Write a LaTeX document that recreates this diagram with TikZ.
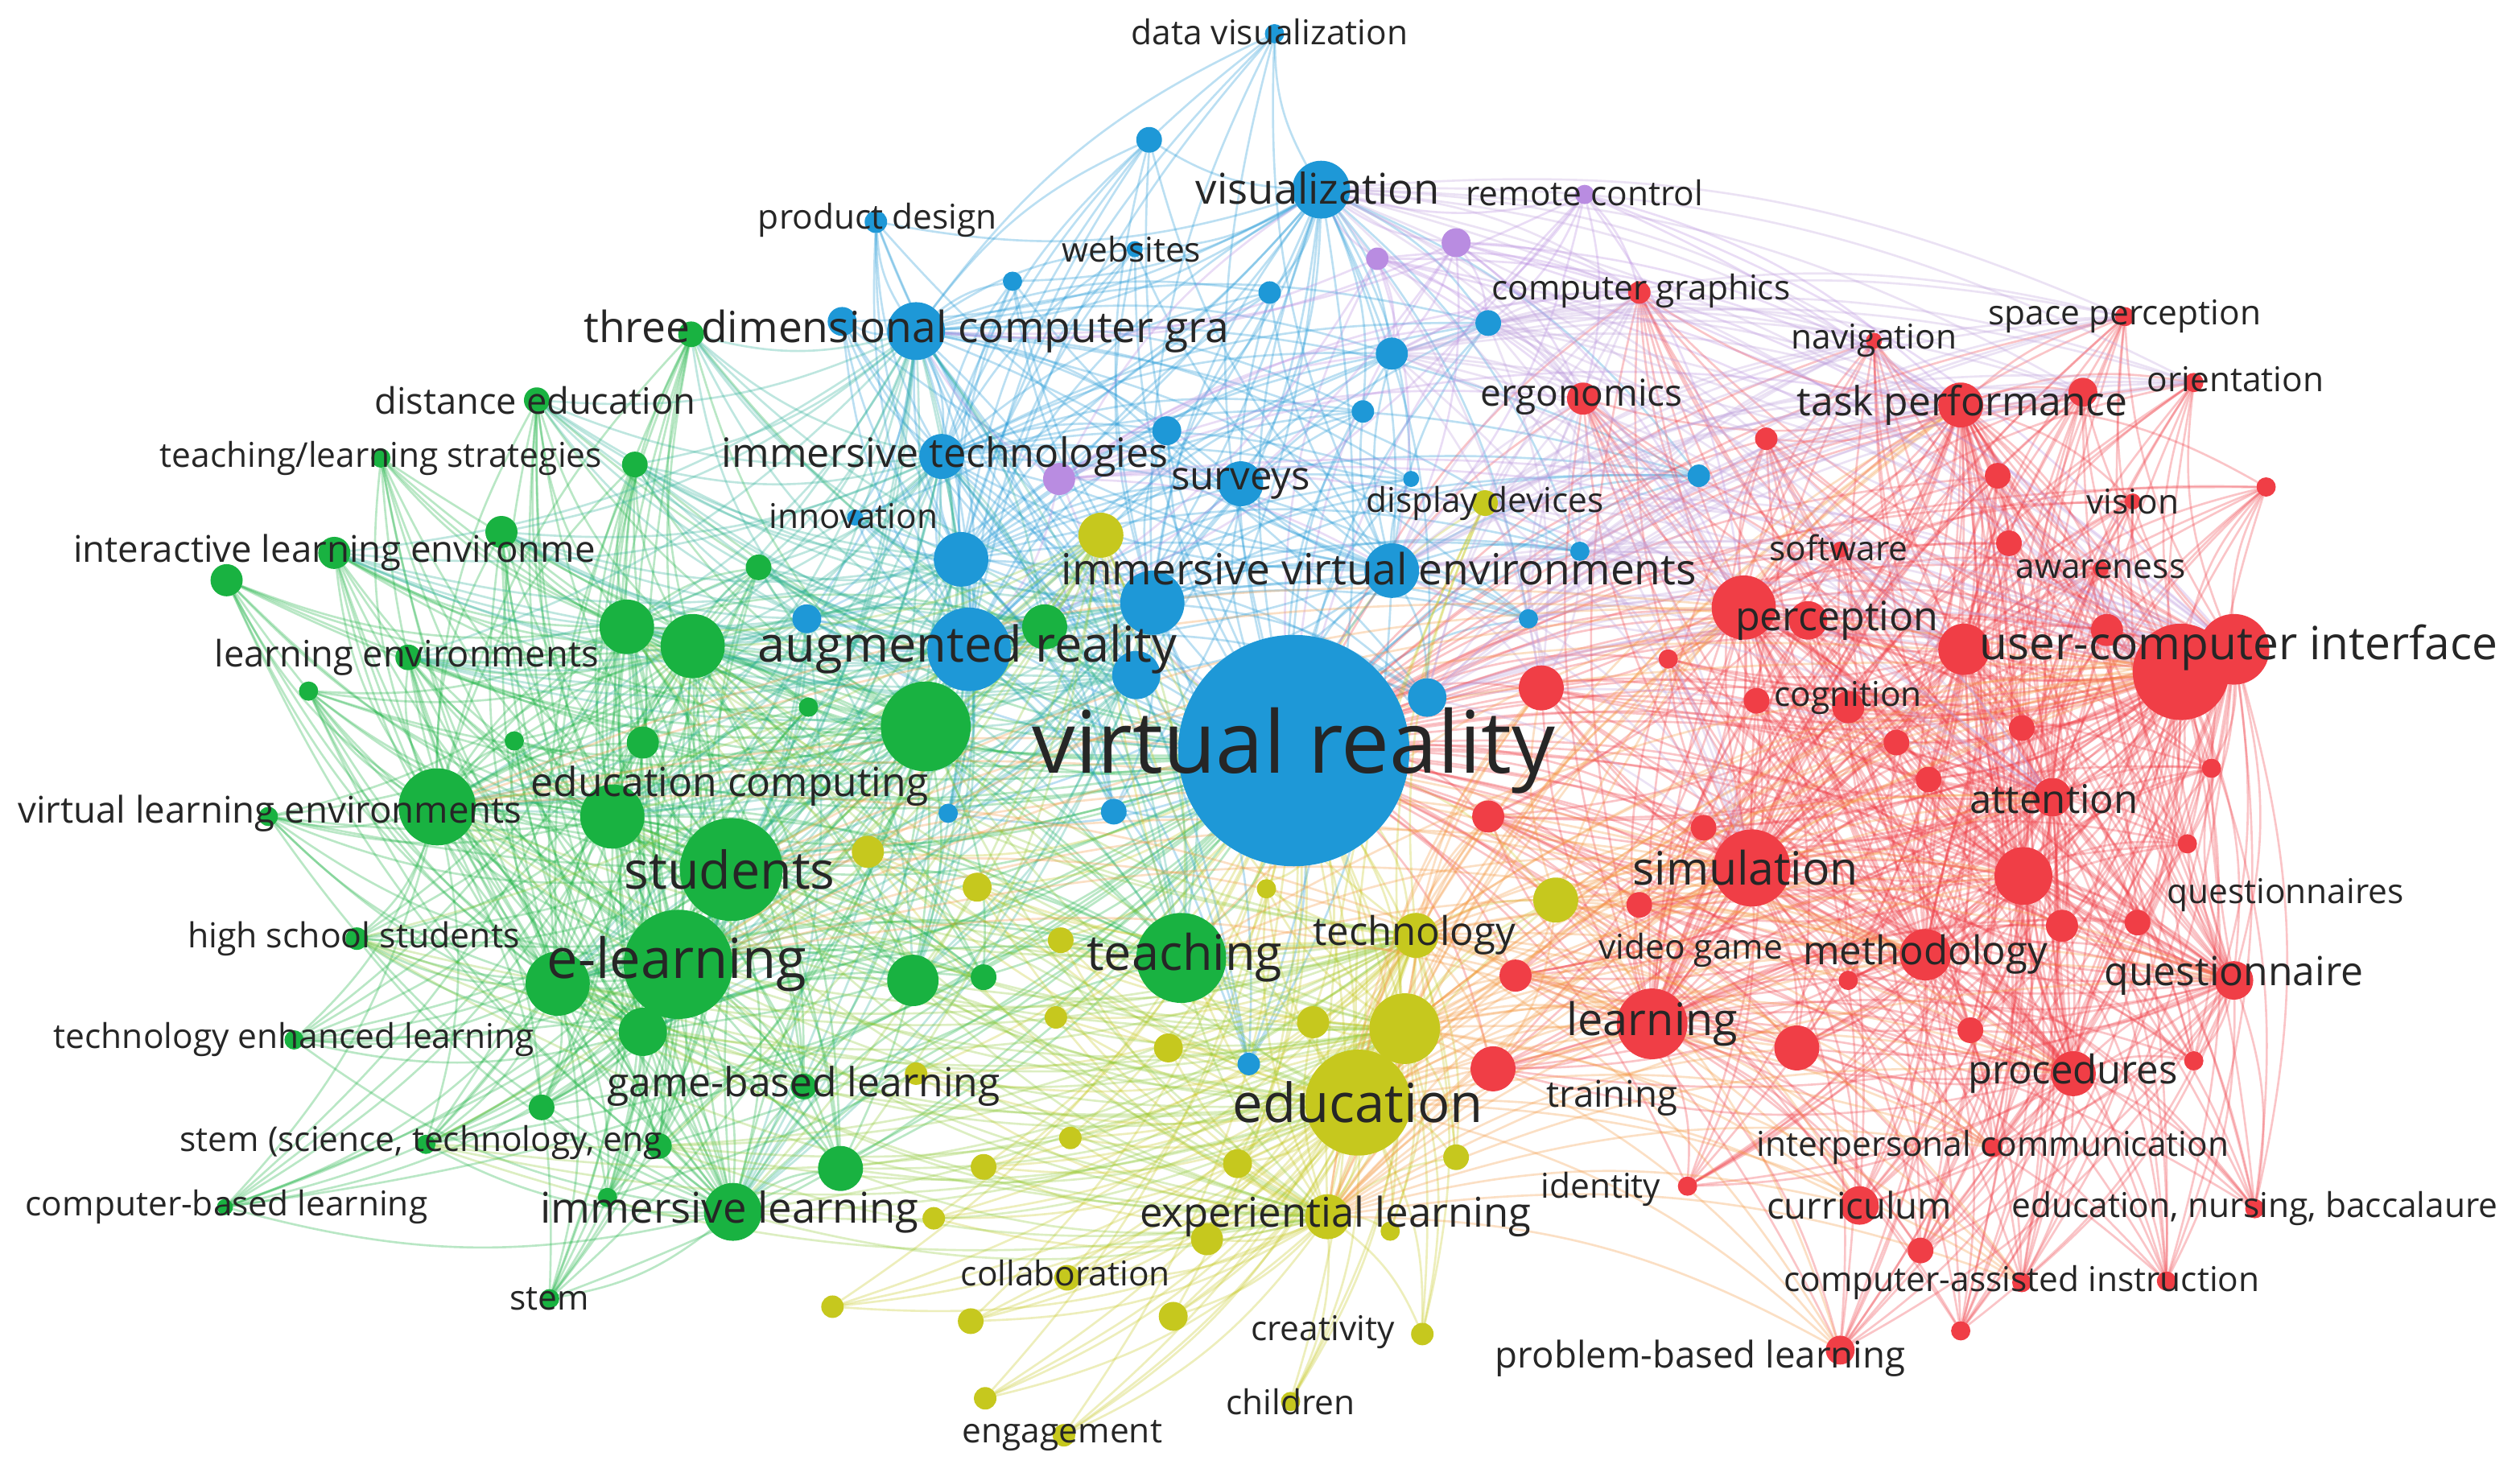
\documentclass[tikz,border=0pt]{standalone}
\usepackage{fontspec}
\setmainfont{Open Sans}
\definecolor{cB}{RGB}{30,152,215}
\definecolor{cG}{RGB}{25,178,65}
\definecolor{cY}{RGB}{198,200,30}
\definecolor{cR}{RGB}{240,62,70}
\definecolor{cP}{RGB}{185,140,225}
\definecolor{cT}{RGB}{38,38,38}
\definecolor{cTe}{RGB}{40,175,150}
\definecolor{cYG}{RGB}{140,200,50}
\definecolor{cO}{RGB}{245,150,60}
\definecolor{cL}{RGB}{190,160,220}
\pgfdeclarelayer{edges}
\pgfsetlayers{edges,main}
\tikzset{
  kw/.style={circle,inner sep=0pt,outer sep=0pt,minimum size={#1*0.04cm}},
  nB/.style={kw=#1,fill=cB},
  nG/.style={kw=#1,fill=cG},
  nY/.style={kw=#1,fill=cY},
  nR/.style={kw=#1,fill=cR},
  nP/.style={kw=#1,fill=cP},
  lbl/.style={text=cT,inner sep=0pt,font=\fontsize{#1}{#1}\selectfont},
  eg/.style={line width=0.75pt,draw opacity=0.3},
  eB/.style={eg,draw=cB},
  eG/.style={eg,draw=cG},
  eY/.style={eg,draw=cY},
  eR/.style={eg,draw=cR},
  eP/.style={eg,draw=cP},
  eTe/.style={eg,draw=cTe},
  eYG/.style={eg,draw=cYG},
  eO/.style={eg,draw=cO},
  eL/.style={eg,draw=cL},
  cv/.style={bend left=14},
}
\def\Bl{dv,vis,pd,web,tdcg,imt,inn,sur,ive,ar,b1,b2,b3,b4,b5,b6,b7,b8,b9,b10,b11,b12,b13,b14,b15,b16,b17,b18,b19,b20}
\def\Bm{dv,pd,web,inn,sur,b1,b2,b3,b4,b5,b6,b7,b8,b9,b10,b11,b12,b15,b16,b17,b18,b19,b20}
\def\Gl{de,tls,ile,g0,le,vle,ec,stu,hss,el,tel,gbl,stm2,cbl,iml,stem,tch,g1,g2,g3,g4,g5,g6,g7,g8,g9,g10,g11,g12,g13,g14,g15,g16,g17,g18,g19,g20,g21}
\def\Gm{de,tls,ile,g0,le,hss,tel,stm2,cbl,stem,tch,g1,g2,g3,g4,g8,g9,g10,g11,g13,g14,g15,g16,g17,g18,g19,g20,g21}
\def\Yl{dd,tech,edu,exl,col,cre,chi,eng,y1,y2,y3,y4,y5,y6,y7,y8,y9,y10,y11,y12,y13,y14,y15,y16,y17,y18,y19,y20,y21,y22}
\def\Ym{dd,col,cre,chi,eng,y1,y2,y4,y5,y6,y7,y8,y9,y10,y11,y12,y13,y14,y15,y16,y17,y18,y19,y20,y21,y22}
\def\Rl{cg,nav,sp,erg,tp,ori,sw,vsn,aw,per,uci,cog,att,sim,qs,vg,meth,qn,lrn,proc,trn,ipc,cur,enb,cai,pbl,idn,r1,r2,r3,r4,r5,r6,r7,r8,r9,r10,r11,r12,r13,r14,r15,r16,r17,r18,r19,r20,r21,r22,r23,r24,r25,r26,r27,r28,r29}
\def\Rm{cg,nav,sp,erg,ori,sw,vsn,aw,cog,qs,vg,ipc,cur,enb,cai,pbl,idn,trn,r1,r2,r3,r4,r5,r6,r7,r8,r11,r12,r13,r14,r15,r16,r17,r18,r19,r20,r21,r22,r23,r24,r26,r27,r28,r29}
\def\Pl{rc,p1,p2,p3}
\begin{document}
\begin{tikzpicture}[x=0.02cm,y=-0.02cm]
\useasboundingbox (0,0) rectangle (1568,921);
% ---------- blue ----------
\node[nB=72] (vr) at (805,467) {};
\node[nB=6] (dv) at (793,21) {};
\node[nB=18] (vis) at (822,118) {};
\node[nB=7] (pd) at (545,138) {};
\node[nB=5] (web) at (706,155) {};
\node[nB=18] (tdcg) at (570,206) {};
\node[nB=14] (imt) at (586,284) {};
\node[nB=5] (inn) at (532,322) {};
\node[nB=14] (sur) at (772,301) {};
\node[nB=17] (ive) at (866,355) {};
\node[nB=26] (ar) at (603,404) {};
\node[nB=8] (b1) at (715,87) {};
\node[nB=6] (b2) at (630,175) {};
\node[nB=7] (b3) at (790,182) {};
\node[nB=9] (b4) at (524,200) {};
\node[nB=9] (b5) at (726,268) {};
\node[nB=10] (b6) at (866,220) {};
\node[nB=8] (b7) at (926,201) {};
\node[nB=7] (b8) at (848,256) {};
\node[nB=5] (b9) at (878,298) {};
\node[nB=7] (b10) at (1057,296) {};
\node[nB=6] (b11) at (983,343) {};
\node[nB=6] (b12) at (951,385) {};
\node[nB=17] (b13) at (598,348) {};
\node[nB=20] (b14) at (717,375) {};
\node[nB=15] (b15) at (707,420) {};
\node[nB=12] (b16) at (888,434) {};
\node[nB=6] (b17) at (590,506) {};
\node[nB=8] (b18) at (693,505) {};
\node[nB=7] (b19) at (777,662) {};
\node[nB=9] (b20) at (502,385) {};
% ---------- purple ----------
\node[nP=6] (rc) at (986,121) {};
\node[nP=9] (p1) at (906,151) {};
\node[nP=7] (p2) at (857,161) {};
\node[nP=10] (p3) at (659,298) {};
% ---------- yellow ----------
\node[nY=8] (dd) at (924,313) {};
\node[nY=14] (tech) at (881,582) {};
\node[nY=33] (edu) at (845,686) {};
\node[nY=14] (exl) at (826,757) {};
\node[nY=8] (col) at (664,795) {};
\node[nY=7] (cre) at (885,830) {};
\node[nY=6] (chi) at (803,872) {};
\node[nY=7] (eng) at (662,893) {};
\node[nY=14] (y1) at (685,333) {};
\node[nY=14] (y2) at (968,560) {};
\node[nY=22] (y3) at (874,640) {};
\node[nY=10] (y4) at (540,530) {};
\node[nY=9] (y5) at (608,552) {};
\node[nY=8] (y6) at (660,585) {};
\node[nY=7] (y7) at (657,633) {};
\node[nY=9] (y8) at (727,652) {};
\node[nY=10] (y9) at (817,636) {};
\node[nY=9] (y10) at (770,724) {};
\node[nY=10] (y11) at (751,771) {};
\node[nY=8] (y12) at (612,726) {};
\node[nY=7] (y13) at (666,708) {};
\node[nY=7] (y14) at (581,758) {};
\node[nY=7] (y15) at (518,813) {};
\node[nY=8] (y16) at (604,822) {};
\node[nY=9] (y17) at (730,819) {};
\node[nY=7] (y18) at (613,870) {};
\node[nY=8] (y19) at (906,720) {};
\node[nY=6] (y20) at (865,766) {};
\node[nY=6] (y21) at (788,553) {};
\node[nY=7] (y22) at (570,668) {};
% ---------- red ----------
\node[nR=7] (cg) at (1020,182) {};
\node[nR=5] (nav) at (1166,212) {};
\node[nR=6] (sp) at (1322,197) {};
\node[nR=10] (erg) at (985,248) {};
\node[nR=14] (tp) at (1220,252) {};
\node[nR=6] (ori) at (1365,238) {};
\node[nR=5] (sw) at (1145,342) {};
\node[nR=5] (vsn) at (1327,312) {};
\node[nR=5] (aw) at (1307,354) {};
\node[nR=20] (per) at (1085,378) {};
\node[nR=30] (uci) at (1357,418) {};
\node[nR=8] (cog) at (1093,436) {};
\node[nR=12] (att) at (1277,496) {};
\node[nR=24] (sim) at (1090,540) {};
\node[nR=6] (qs) at (1361,525) {};
\node[nR=8] (vg) at (1020,563) {};
\node[nR=16] (meth) at (1198,594) {};
\node[nR=12] (qn) at (1390,610) {};
\node[nR=22] (lrn) at (1028,637) {};
\node[nR=14] (proc) at (1290,668) {};
\node[nR=14] (trn) at (929,665) {};
\node[nR=6] (ipc) at (1240,714) {};
\node[nR=12] (cur) at (1157,750) {};
\node[nR=6] (enb) at (1403,752) {};
\node[nR=6] (cai) at (1258,798) {};
\node[nR=9] (pbl) at (1145,840) {};
\node[nR=6] (idn) at (1050,738) {};
\node[nR=14] (r1) at (959,428) {};
\node[nR=10] (r2) at (926,508) {};
\node[nR=10] (r3) at (943,607) {};
\node[nR=7] (r4) at (1099,273) {};
\node[nR=8] (r5) at (1243,296) {};
\node[nR=9] (r6) at (1296,244) {};
\node[nR=6] (r7) at (1410,303) {};
\node[nR=8] (r8) at (1250,338) {};
\node[nR=16] (r9) at (1222,404) {};
\node[nR=18] (r10) at (1259,545) {};
\node[nR=10] (r11) at (1283,576) {};
\node[nR=14] (r12) at (1118,652) {};
\node[nR=8] (r13) at (1226,641) {};
\node[nR=6] (r14) at (1365,660) {};
\node[nR=8] (r15) at (1195,778) {};
\node[nR=6] (r16) at (1220,828) {};
\node[nR=6] (r17) at (1348,797) {};
\node[nR=6] (r18) at (1038,410) {};
\node[nR=8] (r19) at (1180,462) {};
\node[nR=8] (r20) at (1200,485) {};
\node[nR=8] (r21) at (1330,574) {};
\node[nR=6] (r22) at (1376,478) {};
\node[nR=8] (r23) at (1258,453) {};
\node[nR=10] (r24) at (1311,392) {};
\node[nR=22] (r25) at (1390,404) {};
\node[nR=8] (r26) at (1060,515) {};
\node[nR=6] (r27) at (1150,610) {};
\node[nR=10] (r28) at (1150,440) {};
\node[nR=12] (r29) at (1125,386) {};
% ---------- green ----------
\node[nG=8] (de) at (334,249) {};
\node[nG=6] (tls) at (237,285) {};
\node[nG=10] (ile) at (208,344) {};
\node[nG=10] (g0) at (141,361) {};
\node[nG=8] (le) at (254,409) {};
\node[nG=24] (vle) at (272,502) {};
\node[nG=20] (ec) at (381,508) {};
\node[nG=32] (stu) at (455,541) {};
\node[nG=7] (hss) at (222,584) {};
\node[nG=34] (el) at (422,600) {};
\node[nG=6] (tel) at (183,647) {};
\node[nG=15] (gbl) at (400,642) {};
\node[nG=6] (stm2) at (265,712) {};
\node[nG=5] (cbl) at (140,751) {};
\node[nG=18] (iml) at (456,754) {};
\node[nG=6] (stem) at (342,808) {};
\node[nG=28] (tch) at (735,596) {};
\node[nG=8] (g1) at (430,208) {};
\node[nG=8] (g2) at (395,289) {};
\node[nG=10] (g3) at (312,331) {};
\node[nG=8] (g4) at (472,353) {};
\node[nG=17] (g5) at (390,390) {};
\node[nG=20] (g6) at (431,402) {};
\node[nG=28] (g7) at (576,452) {};
\node[nG=14] (g8) at (650,390) {};
\node[nG=10] (g9) at (400,462) {};
\node[nG=6] (g10) at (320,461) {};
\node[nG=6] (g11) at (503,440) {};
\node[nG=20] (g12) at (347,612) {};
\node[nG=16] (g13) at (568,610) {};
\node[nG=8] (g14) at (612,608) {};
\node[nG=8] (g15) at (337,689) {};
\node[nG=8] (g16) at (410,713) {};
\node[nG=14] (g17) at (523,727) {};
\node[nG=6] (g18) at (378,745) {};
\node[nG=6] (g19) at (192,430) {};
\node[nG=6] (g20) at (167,508) {};
\node[nG=8] (g21) at (500,676) {};
% ---------- edges ----------
\begin{pgfonlayer}{edges}
\fill[white] (0,0) rectangle (1568,921);
\foreach \b in \Bl {\draw[eB] (vr) to[cv] (\b);}
\foreach \b in \Gl {\draw[eG] (vr) to[cv] (\b);}
\foreach \b in \Yl {\draw[eY] (vr) to[cv] (\b);}
\foreach \b in \Rl {\draw[eR] (vr) to[cv] (\b);}
\foreach \b in \Pl {\draw[eP] (vr) to[cv] (\b);}
% blue
\foreach \a in {vis,tdcg,ar,ive,imt,b14,b13}
  \foreach \b in \Bm {\draw[eB] (\a) to[cv] (\b);}
\foreach \a/\b in {vis/tdcg,vis/ar,vis/ive,vis/imt,tdcg/ar,tdcg/imt,ar/imt,ar/ive,ive/imt,b14/vis,b14/ar,b14/ive,b13/ar,b13/tdcg,b13/imt,b13/vis}
  {\draw[eB] (\a) to[cv] (\b);}
% purple
\foreach \a in \Pl
  \foreach \b in {vis,ive,ar,tdcg,b6,b7,per,uci,r25,tp,erg,cg}
  {\draw[eP] (\a) to[cv] (\b);}
% green
\foreach \a in {vle,ec,stu,el,g5,g6,g7,g12,gbl,iml}
  \foreach \b in \Gm {\draw[eG] (\a) to[cv] (\b);}
\foreach \a/\b in {vle/ec,vle/stu,vle/el,vle/g5,vle/g6,vle/g12,ec/stu,ec/el,ec/g5,ec/g6,ec/g7,stu/el,stu/g5,stu/g6,stu/g7,stu/g12,stu/gbl,stu/iml,el/g5,el/g6,el/g7,el/g12,el/gbl,el/iml,g5/g6,g6/g7,g7/g12,g12/gbl,gbl/iml,g12/iml}
  {\draw[eG] (\a) to[cv] (\b);}
% yellow
\foreach \a in {edu,y3,tech,exl}
  \foreach \b in \Ym {\draw[eY] (\a) to[cv] (\b);}
\foreach \a/\b in {edu/y3,edu/tech,edu/exl,y3/tech,y3/exl,tech/exl}
  {\draw[eY] (\a) to[cv] (\b);}
% red
\foreach \a in {uci,r25,per,sim,lrn,tp,meth,att,r10,r9,qn,proc}
  \foreach \b in \Rm {\draw[eR] (\a) to[cv] (\b);}
\foreach \a/\b in {uci/r25,uci/per,uci/sim,uci/lrn,uci/tp,uci/meth,uci/att,uci/r10,uci/r9,uci/qn,uci/proc,per/sim,per/lrn,per/tp,per/r9,sim/lrn,sim/meth,sim/r10,lrn/meth,lrn/proc,tp/r9,meth/proc,meth/qn,att/r10,r10/qn,proc/qn,r25/tp,r25/att,r25/qn}
  {\draw[eR] (\a) to[cv] (\b);}
% cross: blue-green
\foreach \a in {ar,b13,imt,tdcg,b15,b20,b14}
  \foreach \b in {vle,ec,stu,el,g5,g6,g7,g12,de,ile,le,iml,gbl,tch,g1,g2,g3,g4,g8,g13}
  {\draw[eTe] (\a) to[cv] (\b);}
% cross: yellow-green
\foreach \a in {edu,y3,tech,exl,y1}
  \foreach \b in {vle,ec,stu,el,g5,g6,g7,g12,iml,gbl,tch,g13,g17,g16,stm2,hss}
  {\draw[eYG] (\a) to[cv] (\b);}
% cross: yellow-red
\foreach \a in {edu,y3,tech,y2,exl}
  \foreach \b in {uci,r25,per,sim,lrn,tp,meth,att,r10,qn,proc,cur,trn,r1,r2,r3,r12,pbl,ipc,cai}
  {\draw[eO] (\a) to[cv] (\b);}
% cross: blue-red
\foreach \a in {vis,ive,b16,b6,b7,b12,b11,dd}
  \foreach \b in {uci,r25,per,tp,erg,cg,r1,r9,sim,att,sp,nav,ori,r6}
  {\draw[eL] (\a) to[cv] (\b);}
% cross: green-red
\foreach \a in {el,stu,vle,tch}
  \foreach \b in {lrn,sim,uci,per,meth}
  {\draw[eO] (\a) to[cv] (\b);}
\end{pgfonlayer}
% ---------- labels ----------
\node[lbl=30.5] (Lvr) at (805,467) {virtual reality};
\node[lbl=12.1] (Ldv) at (790,20) {data visualization};
\node[lbl=15] (Lvis) at (820,117) {visualization};
\node[lbl=12.1] (Lpd) at (546,137) {product design};
\node[lbl=12.1] (Lweb) at (704,155) {websites};
\node[lbl=15.2] (Ltdcg) at (564,206) {three dimensional computer gra};
\node[lbl=14.3] (Limt) at (588,284) {immersive technologies};
\node[lbl=12.1] (Linn) at (531,321) {innovation};
\node[lbl=14] (Lsur) at (772,301) {surveys};
\node[lbl=15.2] (Live) at (858,354) {immersive virtual environments};
\node[lbl=17.5] (Lar) at (602,404) {augmented reality};
\node[lbl=12.1] (Lrc) at (986,120) {remote control};
\node[lbl=12.1] (Ldd) at (924,313) {display devices};
\node[lbl=14] (Ltech) at (880,582) {technology};
\node[lbl=19.1] (Ledu) at (845,686) {education};
\node[lbl=14.5] (Lexl) at (831,757) {experiential learning};
\node[lbl=12.1] (Lcol) at (663,792) {collaboration};
\node[lbl=12.1] (Lcre) at (823,829) {creativity};
\node[lbl=12.1] (Lchi) at (803,872) {children};
\node[lbl=12.1] (Leng) at (661,893) {engagement};
\node[lbl=12.1] (Lidn) at (996,740) {identity};
\node[lbl=12.1] (Lcg) at (1021,181) {computer graphics};
\node[lbl=12.1] (Lnav) at (1166,212) {navigation};
\node[lbl=12.1] (Lsp) at (1322,197) {space perception};
\node[lbl=13.1] (Lerg) at (984,247) {ergonomics};
\node[lbl=14.2] (Ltp) at (1221,252) {task performance};
\node[lbl=12.1] (Lori) at (1391,236) {orientation};
\node[lbl=12.1] (Lsw) at (1144,341) {software};
\node[lbl=12.1] (Lvsn) at (1327,312) {vision};
\node[lbl=12.1] (Law) at (1307,354) {awareness};
\node[lbl=14.3] (Lper) at (1143,386) {perception};
\node[lbl=16.2] (Luci) at (1393,403) {user-computer interface};
\node[lbl=12.1] (Lcog) at (1150,434) {cognition};
\node[lbl=14] (Latt) at (1278,497) {attention};
\node[lbl=16.3] (Lsim) at (1086,540) {simulation};
\node[lbl=12.1] (Lqs) at (1422,557) {questionnaires};
\node[lbl=12.1] (Lvg) at (1052,591) {video game};
\node[lbl=14] (Lmeth) at (1198,594) {methodology};
\node[lbl=14.2] (Lqn) at (1390,607) {questionnaire};
\node[lbl=15.9] (Llrn) at (1028,637) {learning};
\node[lbl=14] (Lproc) at (1290,668) {procedures};
\node[lbl=13] (Ltrn) at (1003,683) {training};
\node[lbl=12.1] (Lipc) at (1240,714) {interpersonal communication};
\node[lbl=13] (Lcur) at (1157,750) {curriculum};
\node[lbl=12.1] (Lenb) at (1403,752) {education, nursing, baccalaure};
\node[lbl=12.1] (Lcai) at (1258,798) {computer-assisted instruction};
\node[lbl=13] (Lpbl) at (1058,845) {problem-based learning};
\node[lbl=12.9] (Lde) at (333,249) {distance education};
\node[lbl=12.1] (Ltls) at (237,285) {teaching/learning strategies};
\node[lbl=13] (Lile) at (208,344) {interactive learning environme};
\node[lbl=12.9] (Lle) at (253,409) {learning environments};
\node[lbl=13] (Lvle) at (168,506) {virtual learning environments};
\node[lbl=14.2] (Lec) at (454,489) {education computing};
\node[lbl=18.4] (Lstu) at (454,541) {students};
\node[lbl=12.2] (Lhss) at (220,584) {high school students};
\node[lbl=19.6] (Lel) at (421,600) {e-learning};
\node[lbl=12.1] (Ltel) at (183,647) {technology enhanced learning};
\node[lbl=14.2] (Lgbl) at (500,676) {game-based learning};
\node[lbl=12.1] (Lstm2) at (262,711) {stem (science, technology, eng};
\node[lbl=12.1] (Lcbl) at (141,751) {computer-based learning};
\node[lbl=15] (Liml) at (454,754) {immersive learning};
\node[lbl=12.1] (Lstem) at (342,808) {stem};
\node[lbl=17.4] (Ltch) at (737,596) {teaching};
\end{tikzpicture}
\end{document}
